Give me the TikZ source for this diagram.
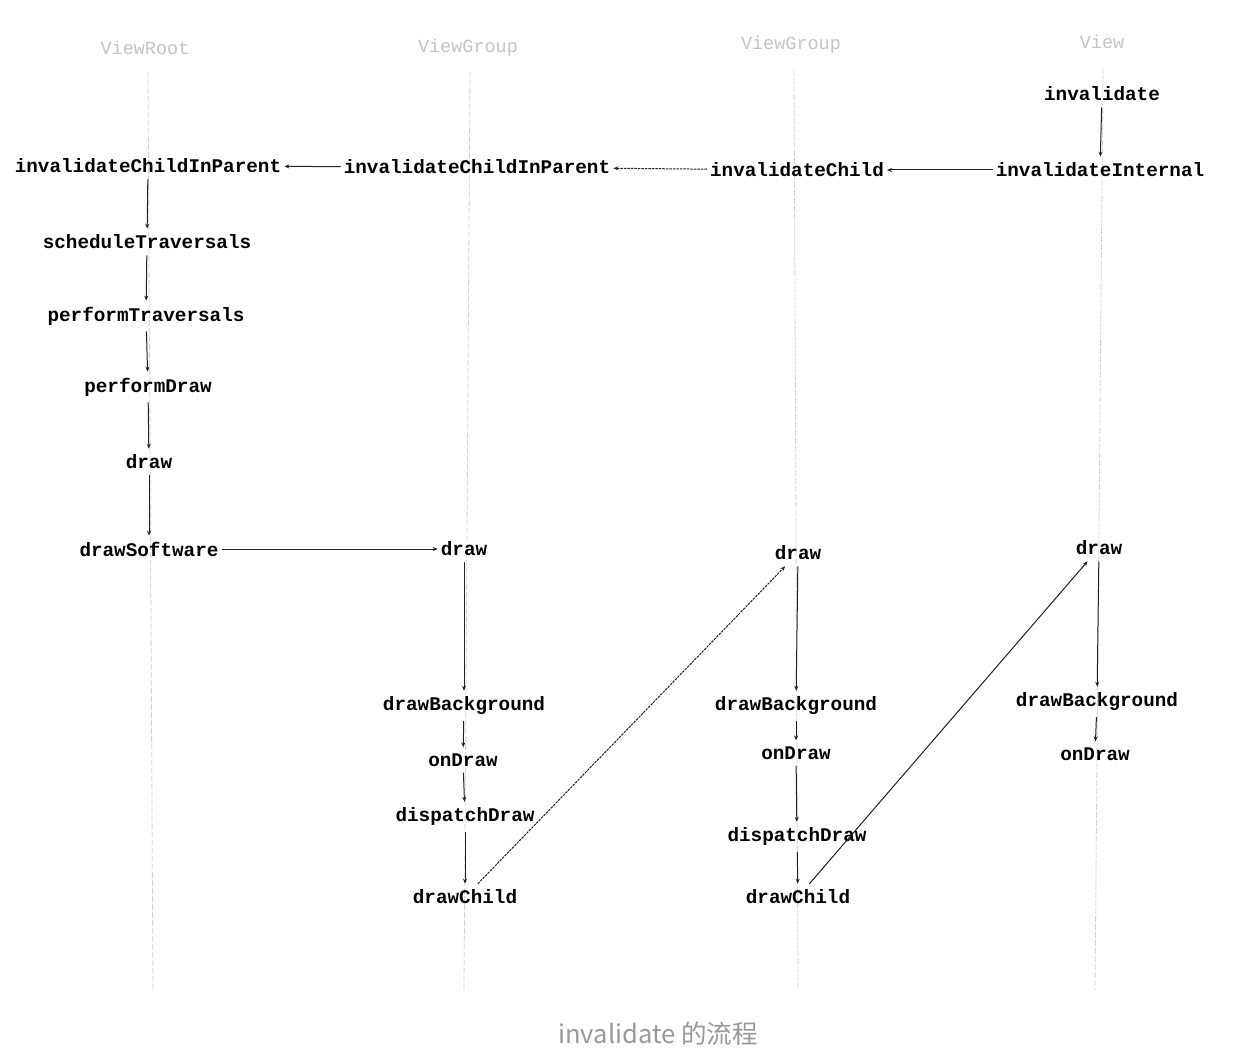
\documentclass[tikz,border=0pt]{standalone}
\usepackage{fontspec}
\newfontfamily\labfont{Liberation Mono}
\newfontfamily\capfont{Noto Sans CJK SC}
\usetikzlibrary{arrows.meta}
\definecolor{lifegray}{HTML}{D4D4D4}
\definecolor{headgray}{HTML}{C4C4C4}
\definecolor{capgray}{HTML}{999999}
\definecolor{arrgray}{HTML}{222222}
\tikzset{
  lbl/.style={font=\labfont\bfseries\fontsize{19.3}{22}\selectfont, text=black, inner xsep=3pt, inner ysep=6pt},
  head/.style={font=\labfont\fontsize{18.5}{22}\selectfont, text=headgray, inner sep=0pt},
  life/.style={draw=lifegray, line width=0.8pt, dash pattern=on 6pt off 2pt},
  call/.style={draw=arrgray, line width=1pt, -{Stealth[length=5pt,width=4pt]}},
  dcall/.style={call, dash pattern=on 2.5pt off 1pt},
}
\begin{document}
\begin{tikzpicture}[x=1pt,y=-1pt]
\useasboundingbox[fill=white] (0,0) rectangle (1240,1062);
% headers
\node[head] (hroot) at (145,48) {ViewRoot};
\node[head] (hvg1) at (468,48) {ViewGroup};
\node[head] (hvg2) at (791,45) {ViewGroup};
\node[head] (hview) at (1102,42) {View};
% lifelines
\coordinate (l1a) at (148,72); \coordinate (l1b) at (153,990);
\coordinate (l2a) at (470,72); \coordinate (l2b) at (464,990);
\coordinate (l3a) at (794,70); \coordinate (l3b) at (798,990);
\coordinate (l4a) at (1103,68); \coordinate (l4b) at (1095,990);
\draw[life] (l1a) -- (l1b);
\draw[life] (l2a) -- (l2b);
\draw[life] (l3a) -- (l3b);
\draw[life] (l4a) -- (l4b);
% nodes
\node[lbl] (inv) at (1102,94) {invalidate};
\node[lbl] (invint) at (1100,170) {invalidateInternal};
\node[lbl] (invch) at (797,170) {invalidateChild};
\node[lbl] (icip2) at (477,167) {invalidateChildInParent};
\node[lbl] (icip1) at (148,166) {invalidateChildInParent};
\node[lbl] (sched) at (147,242) {scheduleTraversals};
\node[lbl] (perf) at (146,316) {performTraversals};
\node[lbl] (pdraw) at (148,387) {performDraw};
\node[lbl] (rdraw) at (149,462) {draw};
\node[lbl] (dsoft) at (149,549) {drawSoftware};
\node[lbl] (gdraw) at (464,549) {draw};
\node[lbl] (gbg) at (464,706) {drawBackground};
\node[lbl] (gon) at (463,760) {onDraw};
\node[lbl] (gdisp) at (465,817) {dispatchDraw};
\node[lbl] (gchild) at (465,897) {drawChild};
\node[lbl] (hdraw) at (798,553) {draw};
\node[lbl] (hbg) at (796,706) {drawBackground};
\node[lbl] (hon) at (796,753) {onDraw};
\node[lbl] (hdisp) at (797,837) {dispatchDraw};
\node[lbl] (hchild) at (798,897) {drawChild};
\node[lbl] (vdraw) at (1099,548) {draw};
\node[lbl] (vbg) at (1097,702) {drawBackground};
\node[lbl] (von) at (1095,754) {onDraw};
% connectors
\draw[call] (inv) -- (invint);
\draw[call] (invint) -- (invch);
\draw[dcall] (invch) -- (icip2);
\draw[call] (icip2) -- (icip1);
\draw[call] (icip1) -- (sched);
\draw[call] (sched) -- (perf);
\draw[call] (perf) -- (pdraw);
\draw[call] (pdraw) -- (rdraw);
\draw[call] (rdraw) -- (dsoft);
\draw[call] (dsoft) -- (gdraw);
\draw[call] (gdraw) -- (gbg);
\draw[call] (gbg) -- (gon);
\draw[call] (gon) -- (gdisp);
\draw[call] (gdisp) -- (gchild);
\draw[dcall] (gchild) -- (hdraw);
\draw[call] (hdraw) -- (hbg);
\draw[call] (hbg) -- (hon);
\draw[call] (hon) -- (hdisp);
\draw[call] (hdisp) -- (hchild);
\draw[call] (hchild) -- (vdraw);
\draw[call] (vdraw) -- (vbg);
\draw[call] (vbg) -- (von);
% caption
\node[font=\capfont\fontsize{25.5}{30}\selectfont, text=capgray, inner sep=0pt] (cap) at (658,1034) {invalidate 的流程};
\end{tikzpicture}
\end{document}
